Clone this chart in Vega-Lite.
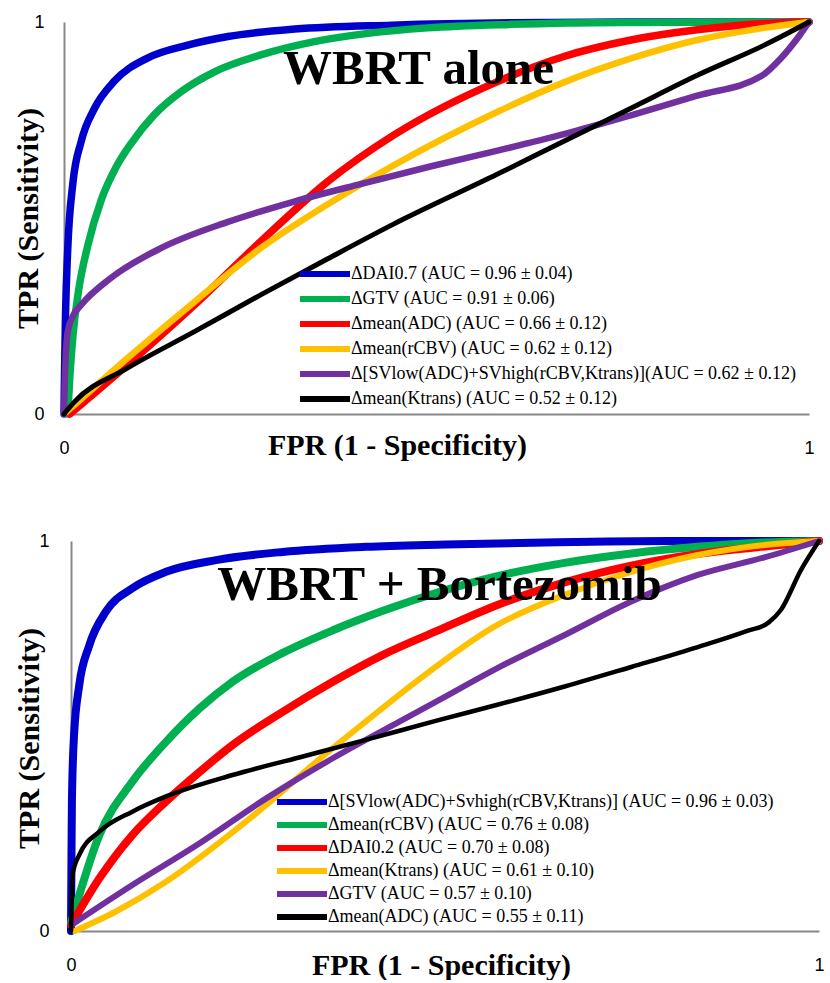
{
  "$schema": "https://vega.github.io/schema/vega-lite/v6.json",
  "padding": {"top": 7, "left": 13, "right": 0, "bottom": 0},
  "spacing": 65,
  "columns": 1,
  "align": "none",
  "config": {
    "view": {"stroke": null},
    "axis": {
      "grid": false,
      "ticks": false,
      "domainColor": "#888888",
      "domainWidth": 2,
      "labelFont": "Liberation Sans",
      "labelFontSize": 18,
      "labelColor": "black",
      "labelFlush": false,
      "titleFont": "Liberation Serif",
      "titleFontWeight": "bold",
      "titleFontSize": 30,
      "titleColor": "black"
    },
    "legend": {
      "symbolType": "M-3.125,0H3.125",
      "symbolSize": 256,
      "symbolStrokeWidth": 6,
      "labelFont": "Liberation Serif",
      "labelFontSize": 18,
      "labelColor": "black",
      "labelLimit": 0,
      "labelOffset": 15,
      "rowPadding": 1,
      "padding": 0
    }
  },
  "datasets": {
    "alone": [
      {"series": "ΔDAI0.7 (AUC = 0.96 ± 0.04)", "fpr": 0, "tpr": 0},
      {"series": "ΔDAI0.7 (AUC = 0.96 ± 0.04)", "fpr": 0.0005, "tpr": 0.08},
      {"series": "ΔDAI0.7 (AUC = 0.96 ± 0.04)", "fpr": 0.002, "tpr": 0.25},
      {"series": "ΔDAI0.7 (AUC = 0.96 ± 0.04)", "fpr": 0.005, "tpr": 0.42},
      {"series": "ΔDAI0.7 (AUC = 0.96 ± 0.04)", "fpr": 0.012, "tpr": 0.59},
      {"series": "ΔDAI0.7 (AUC = 0.96 ± 0.04)", "fpr": 0.023, "tpr": 0.695},
      {"series": "ΔDAI0.7 (AUC = 0.96 ± 0.04)", "fpr": 0.041, "tpr": 0.78},
      {"series": "ΔDAI0.7 (AUC = 0.96 ± 0.04)", "fpr": 0.067, "tpr": 0.848},
      {"series": "ΔDAI0.7 (AUC = 0.96 ± 0.04)", "fpr": 0.112, "tpr": 0.908},
      {"series": "ΔDAI0.7 (AUC = 0.96 ± 0.04)", "fpr": 0.166, "tpr": 0.941},
      {"series": "ΔDAI0.7 (AUC = 0.96 ± 0.04)", "fpr": 0.22, "tpr": 0.963},
      {"series": "ΔDAI0.7 (AUC = 0.96 ± 0.04)", "fpr": 0.31, "tpr": 0.982},
      {"series": "ΔDAI0.7 (AUC = 0.96 ± 0.04)", "fpr": 0.44, "tpr": 0.992},
      {"series": "ΔDAI0.7 (AUC = 0.96 ± 0.04)", "fpr": 0.6, "tpr": 0.998},
      {"series": "ΔDAI0.7 (AUC = 0.96 ± 0.04)", "fpr": 0.8, "tpr": 1},
      {"series": "ΔDAI0.7 (AUC = 0.96 ± 0.04)", "fpr": 1, "tpr": 1},

      {"series": "ΔGTV (AUC = 0.91 ± 0.06)", "fpr": 0.005, "tpr": 0},
      {"series": "ΔGTV (AUC = 0.91 ± 0.06)", "fpr": 0.008, "tpr": 0.1},
      {"series": "ΔGTV (AUC = 0.91 ± 0.06)", "fpr": 0.012, "tpr": 0.2},
      {"series": "ΔGTV (AUC = 0.91 ± 0.06)", "fpr": 0.02, "tpr": 0.32},
      {"series": "ΔGTV (AUC = 0.91 ± 0.06)", "fpr": 0.032, "tpr": 0.43},
      {"series": "ΔGTV (AUC = 0.91 ± 0.06)", "fpr": 0.05, "tpr": 0.546},
      {"series": "ΔGTV (AUC = 0.91 ± 0.06)", "fpr": 0.07, "tpr": 0.63},
      {"series": "ΔGTV (AUC = 0.91 ± 0.06)", "fpr": 0.09, "tpr": 0.69},
      {"series": "ΔGTV (AUC = 0.91 ± 0.06)", "fpr": 0.121, "tpr": 0.763},
      {"series": "ΔGTV (AUC = 0.91 ± 0.06)", "fpr": 0.157, "tpr": 0.822},
      {"series": "ΔGTV (AUC = 0.91 ± 0.06)", "fpr": 0.202, "tpr": 0.873},
      {"series": "ΔGTV (AUC = 0.91 ± 0.06)", "fpr": 0.264, "tpr": 0.916},
      {"series": "ΔGTV (AUC = 0.91 ± 0.06)", "fpr": 0.336, "tpr": 0.95},
      {"series": "ΔGTV (AUC = 0.91 ± 0.06)", "fpr": 0.408, "tpr": 0.971},
      {"series": "ΔGTV (AUC = 0.91 ± 0.06)", "fpr": 0.488, "tpr": 0.985},
      {"series": "ΔGTV (AUC = 0.91 ± 0.06)", "fpr": 0.6, "tpr": 0.994},
      {"series": "ΔGTV (AUC = 0.91 ± 0.06)", "fpr": 0.75, "tpr": 0.999},
      {"series": "ΔGTV (AUC = 0.91 ± 0.06)", "fpr": 1, "tpr": 1},

      {"series": "Δmean(ADC) (AUC = 0.66 ± 0.12)", "fpr": 0.008, "tpr": 0},
      {"series": "Δmean(ADC) (AUC = 0.66 ± 0.12)", "fpr": 0.085, "tpr": 0.125},
      {"series": "Δmean(ADC) (AUC = 0.66 ± 0.12)", "fpr": 0.175, "tpr": 0.278},
      {"series": "Δmean(ADC) (AUC = 0.66 ± 0.12)", "fpr": 0.264, "tpr": 0.44},
      {"series": "Δmean(ADC) (AUC = 0.66 ± 0.12)", "fpr": 0.354, "tpr": 0.593},
      {"series": "Δmean(ADC) (AUC = 0.66 ± 0.12)", "fpr": 0.443, "tpr": 0.712},
      {"series": "Δmean(ADC) (AUC = 0.66 ± 0.12)", "fpr": 0.582, "tpr": 0.848},
      {"series": "Δmean(ADC) (AUC = 0.66 ± 0.12)", "fpr": 0.671, "tpr": 0.912},
      {"series": "Δmean(ADC) (AUC = 0.66 ± 0.12)", "fpr": 0.761, "tpr": 0.954},
      {"series": "Δmean(ADC) (AUC = 0.66 ± 0.12)", "fpr": 0.85, "tpr": 0.98},
      {"series": "Δmean(ADC) (AUC = 0.66 ± 0.12)", "fpr": 0.94, "tpr": 0.996},
      {"series": "Δmean(ADC) (AUC = 0.66 ± 0.12)", "fpr": 1, "tpr": 1},

      {"series": "Δmean(rCBV) (AUC = 0.62 ± 0.12)", "fpr": 0, "tpr": 0},
      {"series": "Δmean(rCBV) (AUC = 0.62 ± 0.12)", "fpr": 0.009, "tpr": 0.015},
      {"series": "Δmean(rCBV) (AUC = 0.62 ± 0.12)", "fpr": 0.085, "tpr": 0.142},
      {"series": "Δmean(rCBV) (AUC = 0.62 ± 0.12)", "fpr": 0.175, "tpr": 0.286},
      {"series": "Δmean(rCBV) (AUC = 0.62 ± 0.12)", "fpr": 0.264, "tpr": 0.423},
      {"series": "Δmean(rCBV) (AUC = 0.62 ± 0.12)", "fpr": 0.354, "tpr": 0.535},
      {"series": "Δmean(rCBV) (AUC = 0.62 ± 0.12)", "fpr": 0.443, "tpr": 0.635},
      {"series": "Δmean(rCBV) (AUC = 0.62 ± 0.12)", "fpr": 0.582, "tpr": 0.771},
      {"series": "Δmean(rCBV) (AUC = 0.62 ± 0.12)", "fpr": 0.671, "tpr": 0.846},
      {"series": "Δmean(rCBV) (AUC = 0.62 ± 0.12)", "fpr": 0.761, "tpr": 0.907},
      {"series": "Δmean(rCBV) (AUC = 0.62 ± 0.12)", "fpr": 0.85, "tpr": 0.954},
      {"series": "Δmean(rCBV) (AUC = 0.62 ± 0.12)", "fpr": 0.94, "tpr": 0.985},
      {"series": "Δmean(rCBV) (AUC = 0.62 ± 0.12)", "fpr": 1, "tpr": 1},

      {"series": "Δ[SVlow(ADC)+SVhigh(rCBV,Ktrans)](AUC = 0.62 ± 0.12)", "fpr": 0, "tpr": 0},
      {"series": "Δ[SVlow(ADC)+SVhigh(rCBV,Ktrans)](AUC = 0.62 ± 0.12)", "fpr": 0.001, "tpr": 0.08},
      {"series": "Δ[SVlow(ADC)+SVhigh(rCBV,Ktrans)](AUC = 0.62 ± 0.12)", "fpr": 0.005, "tpr": 0.21},
      {"series": "Δ[SVlow(ADC)+SVhigh(rCBV,Ktrans)](AUC = 0.62 ± 0.12)", "fpr": 0.012, "tpr": 0.25},
      {"series": "Δ[SVlow(ADC)+SVhigh(rCBV,Ktrans)](AUC = 0.62 ± 0.12)", "fpr": 0.023, "tpr": 0.278},
      {"series": "Δ[SVlow(ADC)+SVhigh(rCBV,Ktrans)](AUC = 0.62 ± 0.12)", "fpr": 0.063, "tpr": 0.347},
      {"series": "Δ[SVlow(ADC)+SVhigh(rCBV,Ktrans)](AUC = 0.62 ± 0.12)", "fpr": 0.13, "tpr": 0.423},
      {"series": "Δ[SVlow(ADC)+SVhigh(rCBV,Ktrans)](AUC = 0.62 ± 0.12)", "fpr": 0.22, "tpr": 0.49},
      {"series": "Δ[SVlow(ADC)+SVhigh(rCBV,Ktrans)](AUC = 0.62 ± 0.12)", "fpr": 0.309, "tpr": 0.542},
      {"series": "Δ[SVlow(ADC)+SVhigh(rCBV,Ktrans)](AUC = 0.62 ± 0.12)", "fpr": 0.399, "tpr": 0.587},
      {"series": "Δ[SVlow(ADC)+SVhigh(rCBV,Ktrans)](AUC = 0.62 ± 0.12)", "fpr": 0.493, "tpr": 0.632},
      {"series": "Δ[SVlow(ADC)+SVhigh(rCBV,Ktrans)](AUC = 0.62 ± 0.12)", "fpr": 0.582, "tpr": 0.672},
      {"series": "Δ[SVlow(ADC)+SVhigh(rCBV,Ktrans)](AUC = 0.62 ± 0.12)", "fpr": 0.671, "tpr": 0.714},
      {"series": "Δ[SVlow(ADC)+SVhigh(rCBV,Ktrans)](AUC = 0.62 ± 0.12)", "fpr": 0.761, "tpr": 0.762},
      {"series": "Δ[SVlow(ADC)+SVhigh(rCBV,Ktrans)](AUC = 0.62 ± 0.12)", "fpr": 0.85, "tpr": 0.812},
      {"series": "Δ[SVlow(ADC)+SVhigh(rCBV,Ktrans)](AUC = 0.62 ± 0.12)", "fpr": 0.936, "tpr": 0.862},
      {"series": "Δ[SVlow(ADC)+SVhigh(rCBV,Ktrans)](AUC = 0.62 ± 0.12)", "fpr": 0.962, "tpr": 0.907},
      {"series": "Δ[SVlow(ADC)+SVhigh(rCBV,Ktrans)](AUC = 0.62 ± 0.12)", "fpr": 0.987, "tpr": 0.965},
      {"series": "Δ[SVlow(ADC)+SVhigh(rCBV,Ktrans)](AUC = 0.62 ± 0.12)", "fpr": 1, "tpr": 1},

      {"series": "Δmean(Ktrans) (AUC = 0.52 ± 0.12)", "fpr": 0, "tpr": 0},
      {"series": "Δmean(Ktrans) (AUC = 0.52 ± 0.12)", "fpr": 0.014, "tpr": 0.031},
      {"series": "Δmean(Ktrans) (AUC = 0.52 ± 0.12)", "fpr": 0.085, "tpr": 0.117},
      {"series": "Δmean(Ktrans) (AUC = 0.52 ± 0.12)", "fpr": 0.175, "tpr": 0.21},
      {"series": "Δmean(Ktrans) (AUC = 0.52 ± 0.12)", "fpr": 0.264, "tpr": 0.304},
      {"series": "Δmean(Ktrans) (AUC = 0.52 ± 0.12)", "fpr": 0.354, "tpr": 0.396},
      {"series": "Δmean(Ktrans) (AUC = 0.52 ± 0.12)", "fpr": 0.443, "tpr": 0.485},
      {"series": "Δmean(Ktrans) (AUC = 0.52 ± 0.12)", "fpr": 0.582, "tpr": 0.612},
      {"series": "Δmean(Ktrans) (AUC = 0.52 ± 0.12)", "fpr": 0.671, "tpr": 0.696},
      {"series": "Δmean(Ktrans) (AUC = 0.52 ± 0.12)", "fpr": 0.761, "tpr": 0.78},
      {"series": "Δmean(Ktrans) (AUC = 0.52 ± 0.12)", "fpr": 0.85, "tpr": 0.864},
      {"series": "Δmean(Ktrans) (AUC = 0.52 ± 0.12)", "fpr": 0.94, "tpr": 0.941},
      {"series": "Δmean(Ktrans) (AUC = 0.52 ± 0.12)", "fpr": 1, "tpr": 1}
    ],
    "bortezomib": [
      {"series": "Δ[SVlow(ADC)+Svhigh(rCBV,Ktrans)] (AUC = 0.96 ± 0.03)", "fpr": 0, "tpr": 0},
      {"series": "Δ[SVlow(ADC)+Svhigh(rCBV,Ktrans)] (AUC = 0.96 ± 0.03)", "fpr": 0.0005, "tpr": 0.15},
      {"series": "Δ[SVlow(ADC)+Svhigh(rCBV,Ktrans)] (AUC = 0.96 ± 0.03)", "fpr": 0.0012, "tpr": 0.33},
      {"series": "Δ[SVlow(ADC)+Svhigh(rCBV,Ktrans)] (AUC = 0.96 ± 0.03)", "fpr": 0.004, "tpr": 0.5},
      {"series": "Δ[SVlow(ADC)+Svhigh(rCBV,Ktrans)] (AUC = 0.96 ± 0.03)", "fpr": 0.011, "tpr": 0.63},
      {"series": "Δ[SVlow(ADC)+Svhigh(rCBV,Ktrans)] (AUC = 0.96 ± 0.03)", "fpr": 0.024, "tpr": 0.73},
      {"series": "Δ[SVlow(ADC)+Svhigh(rCBV,Ktrans)] (AUC = 0.96 ± 0.03)", "fpr": 0.047, "tpr": 0.82},
      {"series": "Δ[SVlow(ADC)+Svhigh(rCBV,Ktrans)] (AUC = 0.96 ± 0.03)", "fpr": 0.082, "tpr": 0.879},
      {"series": "Δ[SVlow(ADC)+Svhigh(rCBV,Ktrans)] (AUC = 0.96 ± 0.03)", "fpr": 0.127, "tpr": 0.921},
      {"series": "Δ[SVlow(ADC)+Svhigh(rCBV,Ktrans)] (AUC = 0.96 ± 0.03)", "fpr": 0.194, "tpr": 0.951},
      {"series": "Δ[SVlow(ADC)+Svhigh(rCBV,Ktrans)] (AUC = 0.96 ± 0.03)", "fpr": 0.283, "tpr": 0.972},
      {"series": "Δ[SVlow(ADC)+Svhigh(rCBV,Ktrans)] (AUC = 0.96 ± 0.03)", "fpr": 0.394, "tpr": 0.985},
      {"series": "Δ[SVlow(ADC)+Svhigh(rCBV,Ktrans)] (AUC = 0.96 ± 0.03)", "fpr": 0.501, "tpr": 0.991},
      {"series": "Δ[SVlow(ADC)+Svhigh(rCBV,Ktrans)] (AUC = 0.96 ± 0.03)", "fpr": 0.65, "tpr": 0.997},
      {"series": "Δ[SVlow(ADC)+Svhigh(rCBV,Ktrans)] (AUC = 0.96 ± 0.03)", "fpr": 0.8, "tpr": 1},
      {"series": "Δ[SVlow(ADC)+Svhigh(rCBV,Ktrans)] (AUC = 0.96 ± 0.03)", "fpr": 1, "tpr": 1},

      {"series": "Δmean(rCBV) (AUC = 0.76 ± 0.08)", "fpr": 0, "tpr": 0.02},
      {"series": "Δmean(rCBV) (AUC = 0.76 ± 0.08)", "fpr": 0.038, "tpr": 0.246},
      {"series": "Δmean(rCBV) (AUC = 0.76 ± 0.08)", "fpr": 0.082, "tpr": 0.383},
      {"series": "Δmean(rCBV) (AUC = 0.76 ± 0.08)", "fpr": 0.127, "tpr": 0.485},
      {"series": "Δmean(rCBV) (AUC = 0.76 ± 0.08)", "fpr": 0.172, "tpr": 0.571},
      {"series": "Δmean(rCBV) (AUC = 0.76 ± 0.08)", "fpr": 0.216, "tpr": 0.639},
      {"series": "Δmean(rCBV) (AUC = 0.76 ± 0.08)", "fpr": 0.283, "tpr": 0.713},
      {"series": "Δmean(rCBV) (AUC = 0.76 ± 0.08)", "fpr": 0.35, "tpr": 0.771},
      {"series": "Δmean(rCBV) (AUC = 0.76 ± 0.08)", "fpr": 0.417, "tpr": 0.821},
      {"series": "Δmean(rCBV) (AUC = 0.76 ± 0.08)", "fpr": 0.49, "tpr": 0.868},
      {"series": "Δmean(rCBV) (AUC = 0.76 ± 0.08)", "fpr": 0.57, "tpr": 0.91},
      {"series": "Δmean(rCBV) (AUC = 0.76 ± 0.08)", "fpr": 0.66, "tpr": 0.944},
      {"series": "Δmean(rCBV) (AUC = 0.76 ± 0.08)", "fpr": 0.749, "tpr": 0.968},
      {"series": "Δmean(rCBV) (AUC = 0.76 ± 0.08)", "fpr": 0.838, "tpr": 0.985},
      {"series": "Δmean(rCBV) (AUC = 0.76 ± 0.08)", "fpr": 0.927, "tpr": 0.996},
      {"series": "Δmean(rCBV) (AUC = 0.76 ± 0.08)", "fpr": 1, "tpr": 1},

      {"series": "ΔDAI0.2 (AUC = 0.70 ± 0.08)", "fpr": 0, "tpr": 0.015},
      {"series": "ΔDAI0.2 (AUC = 0.70 ± 0.08)", "fpr": 0.038, "tpr": 0.135},
      {"series": "ΔDAI0.2 (AUC = 0.70 ± 0.08)", "fpr": 0.082, "tpr": 0.246},
      {"series": "ΔDAI0.2 (AUC = 0.70 ± 0.08)", "fpr": 0.127, "tpr": 0.332},
      {"series": "ΔDAI0.2 (AUC = 0.70 ± 0.08)", "fpr": 0.172, "tpr": 0.408},
      {"series": "ΔDAI0.2 (AUC = 0.70 ± 0.08)", "fpr": 0.216, "tpr": 0.477},
      {"series": "ΔDAI0.2 (AUC = 0.70 ± 0.08)", "fpr": 0.283, "tpr": 0.562},
      {"series": "ΔDAI0.2 (AUC = 0.70 ± 0.08)", "fpr": 0.35, "tpr": 0.639},
      {"series": "ΔDAI0.2 (AUC = 0.70 ± 0.08)", "fpr": 0.417, "tpr": 0.708},
      {"series": "ΔDAI0.2 (AUC = 0.70 ± 0.08)", "fpr": 0.49, "tpr": 0.77},
      {"series": "ΔDAI0.2 (AUC = 0.70 ± 0.08)", "fpr": 0.57, "tpr": 0.836},
      {"series": "ΔDAI0.2 (AUC = 0.70 ± 0.08)", "fpr": 0.66, "tpr": 0.894},
      {"series": "ΔDAI0.2 (AUC = 0.70 ± 0.08)", "fpr": 0.749, "tpr": 0.937},
      {"series": "ΔDAI0.2 (AUC = 0.70 ± 0.08)", "fpr": 0.838, "tpr": 0.967},
      {"series": "ΔDAI0.2 (AUC = 0.70 ± 0.08)", "fpr": 0.927, "tpr": 0.986},
      {"series": "ΔDAI0.2 (AUC = 0.70 ± 0.08)", "fpr": 1, "tpr": 1},

      {"series": "Δmean(Ktrans) (AUC = 0.61 ± 0.10)", "fpr": 0.005, "tpr": 0},
      {"series": "Δmean(Ktrans) (AUC = 0.61 ± 0.10)", "fpr": 0.06, "tpr": 0.05},
      {"series": "Δmean(Ktrans) (AUC = 0.61 ± 0.10)", "fpr": 0.127, "tpr": 0.126},
      {"series": "Δmean(Ktrans) (AUC = 0.61 ± 0.10)", "fpr": 0.194, "tpr": 0.22},
      {"series": "Δmean(Ktrans) (AUC = 0.61 ± 0.10)", "fpr": 0.261, "tpr": 0.323},
      {"series": "Δmean(Ktrans) (AUC = 0.61 ± 0.10)", "fpr": 0.328, "tpr": 0.434},
      {"series": "Δmean(Ktrans) (AUC = 0.61 ± 0.10)", "fpr": 0.394, "tpr": 0.537},
      {"series": "Δmean(Ktrans) (AUC = 0.61 ± 0.10)", "fpr": 0.461, "tpr": 0.639},
      {"series": "Δmean(Ktrans) (AUC = 0.61 ± 0.10)", "fpr": 0.57, "tpr": 0.785},
      {"series": "Δmean(Ktrans) (AUC = 0.61 ± 0.10)", "fpr": 0.66, "tpr": 0.862},
      {"series": "Δmean(Ktrans) (AUC = 0.61 ± 0.10)", "fpr": 0.749, "tpr": 0.921},
      {"series": "Δmean(Ktrans) (AUC = 0.61 ± 0.10)", "fpr": 0.838, "tpr": 0.964},
      {"series": "Δmean(Ktrans) (AUC = 0.61 ± 0.10)", "fpr": 0.927, "tpr": 0.99},
      {"series": "Δmean(Ktrans) (AUC = 0.61 ± 0.10)", "fpr": 1, "tpr": 1},

      {"series": "ΔGTV (AUC = 0.57 ± 0.10)", "fpr": 0, "tpr": 0.015},
      {"series": "ΔGTV (AUC = 0.57 ± 0.10)", "fpr": 0.082, "tpr": 0.118},
      {"series": "ΔGTV (AUC = 0.57 ± 0.10)", "fpr": 0.172, "tpr": 0.225},
      {"series": "ΔGTV (AUC = 0.57 ± 0.10)", "fpr": 0.261, "tpr": 0.34},
      {"series": "ΔGTV (AUC = 0.57 ± 0.10)", "fpr": 0.35, "tpr": 0.443},
      {"series": "ΔGTV (AUC = 0.57 ± 0.10)", "fpr": 0.439, "tpr": 0.537},
      {"series": "ΔGTV (AUC = 0.57 ± 0.10)", "fpr": 0.49, "tpr": 0.59},
      {"series": "ΔGTV (AUC = 0.57 ± 0.10)", "fpr": 0.57, "tpr": 0.674},
      {"series": "ΔGTV (AUC = 0.57 ± 0.10)", "fpr": 0.66, "tpr": 0.759},
      {"series": "ΔGTV (AUC = 0.57 ± 0.10)", "fpr": 0.749, "tpr": 0.845},
      {"series": "ΔGTV (AUC = 0.57 ± 0.10)", "fpr": 0.838, "tpr": 0.913},
      {"series": "ΔGTV (AUC = 0.57 ± 0.10)", "fpr": 0.927, "tpr": 0.958},
      {"series": "ΔGTV (AUC = 0.57 ± 0.10)", "fpr": 1, "tpr": 1},

      {"series": "Δmean(ADC) (AUC = 0.55 ± 0.11)", "fpr": 0, "tpr": 0},
      {"series": "Δmean(ADC) (AUC = 0.55 ± 0.11)", "fpr": 0.001, "tpr": 0.08},
      {"series": "Δmean(ADC) (AUC = 0.55 ± 0.11)", "fpr": 0.002, "tpr": 0.144},
      {"series": "Δmean(ADC) (AUC = 0.55 ± 0.11)", "fpr": 0.011, "tpr": 0.195},
      {"series": "Δmean(ADC) (AUC = 0.55 ± 0.11)", "fpr": 0.038, "tpr": 0.255},
      {"series": "Δmean(ADC) (AUC = 0.55 ± 0.11)", "fpr": 0.082, "tpr": 0.306},
      {"series": "Δmean(ADC) (AUC = 0.55 ± 0.11)", "fpr": 0.127, "tpr": 0.345},
      {"series": "Δmean(ADC) (AUC = 0.55 ± 0.11)", "fpr": 0.216, "tpr": 0.4},
      {"series": "Δmean(ADC) (AUC = 0.55 ± 0.11)", "fpr": 0.305, "tpr": 0.445},
      {"series": "Δmean(ADC) (AUC = 0.55 ± 0.11)", "fpr": 0.394, "tpr": 0.49},
      {"series": "Δmean(ADC) (AUC = 0.55 ± 0.11)", "fpr": 0.49, "tpr": 0.54},
      {"series": "Δmean(ADC) (AUC = 0.55 ± 0.11)", "fpr": 0.57, "tpr": 0.58},
      {"series": "Δmean(ADC) (AUC = 0.55 ± 0.11)", "fpr": 0.66, "tpr": 0.627},
      {"series": "Δmean(ADC) (AUC = 0.55 ± 0.11)", "fpr": 0.749, "tpr": 0.677},
      {"series": "Δmean(ADC) (AUC = 0.55 ± 0.11)", "fpr": 0.838, "tpr": 0.728},
      {"series": "Δmean(ADC) (AUC = 0.55 ± 0.11)", "fpr": 0.905, "tpr": 0.77},
      {"series": "Δmean(ADC) (AUC = 0.55 ± 0.11)", "fpr": 0.932, "tpr": 0.79},
      {"series": "Δmean(ADC) (AUC = 0.55 ± 0.11)", "fpr": 0.949, "tpr": 0.823},
      {"series": "Δmean(ADC) (AUC = 0.55 ± 0.11)", "fpr": 0.976, "tpr": 0.926},
      {"series": "Δmean(ADC) (AUC = 0.55 ± 0.11)", "fpr": 1, "tpr": 1}
    ]
  },
  "concat": [
    {
      "width": 745,
      "height": 392,
      "data": {"name": "alone"},
      "title": {
        "text": "WBRT alone",
        "font": "Liberation Serif",
        "fontSize": 49,
        "fontWeight": "bold",
        "color": "black",
        "anchor": "middle",
        "frame": "group",
        "baseline": "alphabetic",
        "offset": -126,
        "dx": -18
      },
      "encoding": {
        "x": {
          "field": "fpr",
          "type": "quantitative",
          "scale": {"domain": [0, 1], "nice": false},
          "axis": {
            "values": [0, 1],
            "format": "d",
            "labelPadding": 25,
            "title": "FPR (1 - Specificity)",
            "titleX": 333,
            "titleY": 31,
            "titleAlign": "center",
            "titleBaseline": "middle"
          }
        },
        "y": {
          "field": "tpr",
          "type": "quantitative",
          "scale": {"domain": [0, 1], "nice": false},
          "axis": {
            "values": [0, 1],
            "format": "d",
            "labelPadding": 20,
            "title": "TPR (Sensitivity)",
            "titleX": -36,
            "titleY": 196,
            "titleAlign": "center",
            "titleBaseline": "middle"
          }
        },
        "color": {
          "field": "series",
          "type": "nominal",
          "scale": {
            "domain": [
              "ΔDAI0.7 (AUC = 0.96 ± 0.04)",
              "ΔGTV (AUC = 0.91 ± 0.06)",
              "Δmean(ADC) (AUC = 0.66 ± 0.12)",
              "Δmean(rCBV) (AUC = 0.62 ± 0.12)",
              "Δ[SVlow(ADC)+SVhigh(rCBV,Ktrans)](AUC = 0.62 ± 0.12)",
              "Δmean(Ktrans) (AUC = 0.52 ± 0.12)"
            ],
            "range": ["#0000CC", "#00B050", "#FF0000", "#FFC000", "#7030A0", "#000000"]
          },
          "legend": {"title": null, "orient": "none", "legendX": 250, "legendY": 241}
        }
      },
      "layer": [
        {
          "transform": [{"filter": {"field": "series", "oneOf": [
            "ΔDAI0.7 (AUC = 0.96 ± 0.04)",
            "ΔGTV (AUC = 0.91 ± 0.06)",
            "Δmean(ADC) (AUC = 0.66 ± 0.12)"
          ]}}],
          "mark": {"type": "line", "interpolate": "monotone", "strokeWidth": 7.5, "strokeCap": "round"}
        },
        {
          "transform": [{"filter": {"field": "series", "oneOf": [
            "Δmean(rCBV) (AUC = 0.62 ± 0.12)",
            "Δ[SVlow(ADC)+SVhigh(rCBV,Ktrans)](AUC = 0.62 ± 0.12)"
          ]}}],
          "mark": {"type": "line", "interpolate": "monotone", "strokeWidth": 6.5, "strokeCap": "round"}
        },
        {
          "transform": [{"filter": {"field": "series", "equal": "Δmean(Ktrans) (AUC = 0.52 ± 0.12)"}}],
          "mark": {"type": "line", "interpolate": "monotone", "strokeWidth": 5, "strokeCap": "round"}
        }
      ]
    },
    {
      "width": 755,
      "height": 390,
      "data": {"name": "bortezomib"},
      "title": {
        "text": "WBRT + Bortezomib",
        "font": "Liberation Serif",
        "fontSize": 49,
        "fontWeight": "bold",
        "color": "black",
        "anchor": "middle",
        "frame": "group",
        "baseline": "alphabetic",
        "offset": -124,
        "dx": -2
      },
      "encoding": {
        "x": {
          "field": "fpr",
          "type": "quantitative",
          "scale": {"domain": [0, 1], "nice": false, "range": [7, 755]},
          "axis": {
            "values": [0, 1],
            "format": "d",
            "labelPadding": 25,
            "title": "FPR (1 - Specificity)",
            "titleX": 377,
            "titleY": 34,
            "titleAlign": "center",
            "titleBaseline": "middle"
          }
        },
        "y": {
          "field": "tpr",
          "type": "quantitative",
          "scale": {"domain": [0, 1], "nice": false},
          "axis": {
            "values": [0, 1],
            "format": "d",
            "offset": -7,
            "labelPadding": 22,
            "title": "TPR (Sensitivity)",
            "titleX": -42,
            "titleY": 197,
            "titleAlign": "center",
            "titleBaseline": "middle"
          }
        },
        "color": {
          "field": "series",
          "type": "nominal",
          "scale": {
            "domain": [
              "Δ[SVlow(ADC)+Svhigh(rCBV,Ktrans)] (AUC = 0.96 ± 0.03)",
              "Δmean(rCBV) (AUC = 0.76 ± 0.08)",
              "ΔDAI0.2 (AUC = 0.70 ± 0.08)",
              "Δmean(Ktrans) (AUC = 0.61 ± 0.10)",
              "ΔGTV (AUC = 0.57 ± 0.10)",
              "Δmean(ADC) (AUC = 0.55 ± 0.11)"
            ],
            "range": ["#0000CC", "#00B050", "#FF0000", "#FFC000", "#7030A0", "#000000"]
          },
          "legend": {"title": null, "orient": "none", "legendX": 227, "legendY": 250, "rowPadding": -1}
        }
      },
      "layer": [
        {
          "transform": [{"filter": {"field": "series", "oneOf": [
            "Δ[SVlow(ADC)+Svhigh(rCBV,Ktrans)] (AUC = 0.96 ± 0.03)",
            "Δmean(rCBV) (AUC = 0.76 ± 0.08)",
            "ΔDAI0.2 (AUC = 0.70 ± 0.08)"
          ]}}],
          "mark": {"type": "line", "interpolate": "monotone", "strokeWidth": 8, "strokeCap": "round"}
        },
        {
          "transform": [{"filter": {"field": "series", "oneOf": [
            "Δmean(Ktrans) (AUC = 0.61 ± 0.10)",
            "ΔGTV (AUC = 0.57 ± 0.10)"
          ]}}],
          "mark": {"type": "line", "interpolate": "monotone", "strokeWidth": 6, "strokeCap": "round"}
        },
        {
          "transform": [{"filter": {"field": "series", "equal": "Δmean(ADC) (AUC = 0.55 ± 0.11)"}}],
          "mark": {"type": "line", "interpolate": "monotone", "strokeWidth": 4.5, "strokeCap": "round"}
        }
      ]
    }
  ],
  "resolve": {"scale": {"color": "independent"}, "legend": {"color": "independent"}}
}
